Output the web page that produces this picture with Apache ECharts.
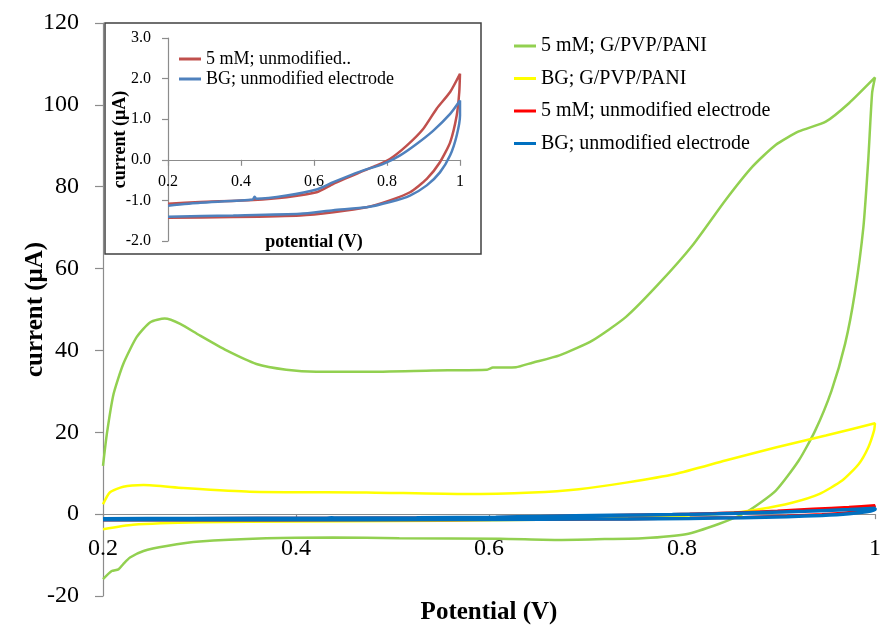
<!DOCTYPE html>
<html>
<head>
<meta charset="utf-8">
<title>CV curves</title>
<script src="https://cdn.jsdelivr.net/npm/echarts@6/dist/echarts.min.js"></script>
<style>
  html, body { margin: 0; padding: 0; background: #fff; }
  #chart { width: 880px; height: 628px; }
</style>
</head>
<body>
<div id="chart"></div>
<script>
// tick labels
const xTickLabels = ['0.2', '0.4', '0.6', '0.8', '1'];
const yTickLabels = ['-20', '0', '20', '40', '60', '80', '100', '120'];
const insetYTickLabels = ['-2.0', '-1.0', '0.0', '1.0', '2.0', '3.0'];

// legend names
const seriesNames = ['5 mM; G/PVP/PANI', 'BG; G/PVP/PANI', '5 mM; unmodified electrode', 'BG; unmodified electrode'];
const insetNames = ['5 mM; unmodified..', 'BG; unmodified electrode'];

// 5 mM; G/PVP/PANI  (potential V, current uA) - forward scan then reverse
const panPotential = [0.200, 0.209, 0.216, 0.221, 0.228, 0.242, 0.266, 0.300, 0.369, 0.438, 0.507, 0.611, 0.673, 0.720, 0.759, 0.804, 0.838, 0.866, 0.897, 0.921, 0.938, 0.955, 0.969, 0.979, 0.988, 0.993, 0.997, 1.000,
  0.973, 0.949, 0.921, 0.897, 0.873, 0.845, 0.811, 0.776, 0.742, 0.707, 0.673, 0.645, 0.628, 0.604, 0.598, 0.542, 0.473, 0.421, 0.390, 0.359, 0.328, 0.300, 0.280, 0.264, 0.249, 0.235, 0.221, 0.211, 0.204, 0.200];
const panCurrent = [-15.9, -13.9, -13.5, -12.2, -10.6, -9.0, -7.8, -6.7, -5.9, -5.7, -5.9, -6.0, -6.3, -6.1, -5.9, -4.9, -2.4, 0.4, 5.7, 13.1, 20.4, 30.2, 41.6, 53.9, 70.2, 86.5, 102.9, 106.7,
  100.4, 95.9, 93.5, 90.2, 84.9, 76.7, 65.7, 56.3, 48.2, 42.4, 38.8, 37.0, 35.9, 35.8, 35.3, 35.1, 34.8, 34.8, 35.3, 36.7, 40.0, 43.7, 46.5, 47.8, 46.9, 43.3, 36.7, 29.4, 19.6, 11.8];

// BG; G/PVP/PANI
const panBgPotential = [0.200, 0.231, 0.300, 0.400, 0.500, 0.600, 0.700, 0.780, 0.845, 0.880, 0.914, 0.942, 0.966, 0.983, 0.993, 0.999, 1.000,
  0.949, 0.897, 0.845, 0.793, 0.742, 0.693, 0.645, 0.576, 0.473, 0.352, 0.283, 0.242, 0.221, 0.207, 0.200];
const panBgCurrent = [-3.7, -2.6, -2.0, -1.8, -1.7, -1.5, -1.2, -0.6, 0.15, 1.2, 2.8, 4.9, 8.2, 12.2, 16.3, 20.4, 22.2,
  19.2, 16.3, 13.1, 9.8, 7.7, 6.1, 5.3, 4.9, 5.3, 5.5, 6.4, 7.1, 6.7, 5.3, 2.4];

// 5 mM; unmodified electrode
const bareSamplePotential = [0.200, 0.379, 0.562, 0.653, 0.744, 0.808, 0.863, 0.909, 0.945, 0.973, 0.991, 0.998, 1.000,
  0.973, 0.936, 0.899, 0.854, 0.808, 0.772, 0.726, 0.653, 0.607, 0.525, 0.434, 0.288, 0.200];
const bareSampleCurrent = [-1.43, -1.41, -1.37, -1.29, -1.17, -1.00, -0.80, -0.47, -0.06, 0.43, 1.09, 1.67, 2.12,
  1.67, 1.26, 0.76, 0.35, 0.02, -0.14, -0.31, -0.59, -0.80, -0.92, -0.99, -1.04, -1.08];

// BG; unmodified electrode
const bareBgPotential = [0.200, 0.379, 0.562, 0.653, 0.744, 0.808, 0.863, 0.909, 0.945, 0.973, 0.991, 1.000, 1.000,
  0.973, 0.927, 0.881, 0.836, 0.790, 0.726, 0.653, 0.607, 0.525, 0.442, 0.437, 0.432, 0.288, 0.200];
const bareBgCurrent = [-1.40, -1.37, -1.33, -1.24, -1.17, -1.04, -0.88, -0.63, -0.31, 0.11, 0.60, 1.09, 1.46,
  1.13, 0.72, 0.39, 0.11, -0.10, -0.29, -0.55, -0.73, -0.88, -0.96, -0.91, -0.98, -1.06, -1.13];

const FONT = 'Liberation Serif';

// main grid: 573 px tall for -20..120, so zero sits 20/140 of it above the bottom
const MAIN_H = 573;
const INSET_H = 203;

function pairs(v, c) {
  return v.map((x, k) => [x, c[k]]);
}

function lineSeries(name, color, width, data, axis) {
  return {
    name: name,
    type: 'line',
    xAxisIndex: axis,
    yAxisIndex: axis,
    data: data,
    color: color,
    showSymbol: false,
    symbol: 'none',
    smooth: 0.2,
    lineStyle: { color: color, width: width }
  };
}

const axisGray = { color: '#8c8c8c', width: 1.2 };

const chart = echarts.init(document.getElementById('chart'));

chart.setOption({
  animation: false,
  backgroundColor: '#fff',
  graphic: [{
    type: 'rect',
    z: -10,
    shape: { x: 105, y: 23, width: 376, height: 231 },
    style: { fill: '#fff', stroke: '#404040', lineWidth: 1.5 }
  }],
  legend: [{
    orient: 'vertical',
    left: 509,
    top: 31,
    icon: 'rect',
    itemWidth: 22,
    itemHeight: 3,
    itemGap: 12.5,
    selectedMode: false,
    data: seriesNames,
    textStyle: { fontFamily: FONT, fontSize: 20, color: '#000' }
  }, {
    orient: 'vertical',
    left: 174,
    top: 45,
    icon: 'rect',
    itemWidth: 22,
    itemHeight: 3,
    itemGap: 2,
    selectedMode: false,
    data: insetNames.map(n => 'inset ' + n),
    formatter: n => n.replace('inset ', ''),
    textStyle: { fontFamily: FONT, fontSize: 18, color: '#000' }
  }],
  grid: [
    { left: 103, right: 5, top: 23, bottom: 32, outerBoundsMode: 'none' },
    { left: 168, right: 420, top: 38, bottom: 387, outerBoundsMode: 'none' }
  ],
  xAxis: [{
    type: 'value', gridIndex: 0, min: 0.2, max: 1, interval: 0.2,
    offset: -MAIN_H * 20 / 140,
    name: 'Potential (V)', nameLocation: 'middle', nameGap: 86, nameMoveOverlap: false,
    nameTextStyle: { fontFamily: FONT, fontSize: 25, fontWeight: 'bold', color: '#000' },
    axisLine: { onZero: false, lineStyle: axisGray },
    axisTick: { show: true, length: 5, lineStyle: axisGray },
    splitLine: { show: false },
    axisLabel: {
      margin: 23, fontFamily: FONT, fontSize: 24, color: '#000', showMinLabel: true, showMaxLabel: true,
      formatter: (v, i) => xTickLabels[i]
    }
  }, {
    type: 'value', gridIndex: 1, min: 0.2, max: 1, interval: 0.2,
    offset: -INSET_H * 2 / 5,
    name: 'potential (V)', nameLocation: 'middle', nameGap: 74, nameMoveOverlap: false,
    nameTextStyle: { fontFamily: FONT, fontSize: 18, fontWeight: 'bold', color: '#000' },
    axisLine: { onZero: false, lineStyle: axisGray },
    axisTick: { show: true, length: 6, lineStyle: axisGray },
    splitLine: { show: false },
    axisLabel: {
      margin: 14, fontFamily: FONT, fontSize: 16, color: '#000', showMinLabel: true, showMaxLabel: true,
      formatter: (v, i) => xTickLabels[i]
    }
  }],
  yAxis: [{
    type: 'value', gridIndex: 0, min: -20, max: 120, interval: 20,
    name: 'current (μA)', nameLocation: 'middle', nameGap: 55, nameMoveOverlap: false,
    nameTextStyle: { fontFamily: FONT, fontSize: 25, fontWeight: 'bold', color: '#000' },
    axisLine: { show: true, onZero: false, lineStyle: axisGray },
    axisTick: { show: true, length: 8, lineStyle: axisGray },
    splitLine: { show: false },
    axisLabel: {
      margin: 24, fontFamily: FONT, fontSize: 24, color: '#000', showMinLabel: true, showMaxLabel: true,
      formatter: (v, i) => yTickLabels[i]
    }
  }, {
    type: 'value', gridIndex: 1, min: -2, max: 3, interval: 1,
    name: 'current (μA)', nameLocation: 'middle', nameGap: 39, nameMoveOverlap: false,
    nameTextStyle: { fontFamily: FONT, fontSize: 18, fontWeight: 'bold', color: '#000' },
    axisLine: { show: true, onZero: false, lineStyle: axisGray },
    axisTick: { show: true, length: 6, lineStyle: axisGray },
    splitLine: { show: false },
    axisLabel: {
      margin: 17, fontFamily: FONT, fontSize: 16, color: '#000', showMinLabel: true, showMaxLabel: true,
      formatter: (v, i) => insetYTickLabels[i]
    }
  }],
  series: [
    lineSeries(seriesNames[0], '#92d050', 2.5, pairs(panPotential, panCurrent), 0),
    lineSeries(seriesNames[1], '#ffff00', 2.5, pairs(panBgPotential, panBgCurrent), 0),
    lineSeries(seriesNames[2], '#ff0000', 3, pairs(bareSamplePotential, bareSampleCurrent), 0),
    lineSeries(seriesNames[3], '#0070c0', 3.5, pairs(bareBgPotential, bareBgCurrent), 0),
    lineSeries('inset ' + insetNames[0], '#c0504d', 2.5, pairs(bareSamplePotential, bareSampleCurrent), 1),
    lineSeries('inset ' + insetNames[1], '#4f81bd', 2.5, pairs(bareBgPotential, bareBgCurrent), 1)
  ]
});
</script>
</body>
</html>
